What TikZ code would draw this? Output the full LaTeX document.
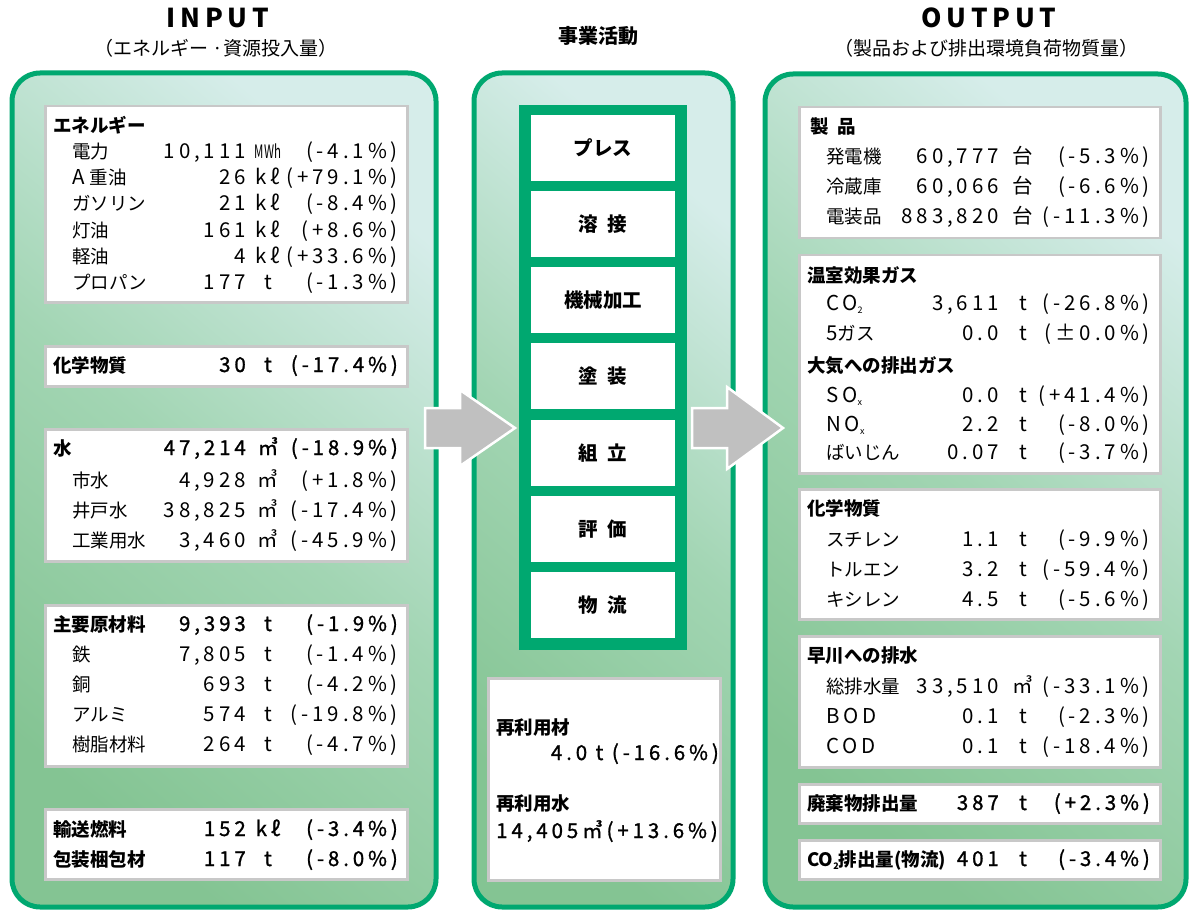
\documentclass[tikz,border=0pt]{standalone}
\usepackage{fontspec}
\setmainfont{Noto Sans CJK JP}
\newfontfamily\numf[LetterSpace=19]{Noto Sans CJK JP}
\newfontfamily\numfb[LetterSpace=19,FakeBold=1.2]{Noto Sans CJK JP}
\newfontfamily\ttlf[LetterSpace=18]{Noto Sans CJK JP}
\definecolor{grn}{HTML}{00A870}
\definecolor{boxgray}{HTML}{C8C8C8}
\definecolor{arrgray}{HTML}{C0C0C0}
\definecolor{lightc}{HTML}{D6EDEA}
\definecolor{midc}{HTML}{A2D5B3}
\definecolor{darkc}{HTML}{84C493}
\newcommand\hv{\numfb}
\newcommand\gp{\hspace{0.5em}}
\newcommand\lsub[1]{\raisebox{-0.35ex}{\fontsize{9}{9}\selectfont #1}}
\newcommand\Lrow[7]{%
  \node[lbl, anchor=base west] (#1n) at (#2,#3+7) {#4};
  \node[val, anchor=base east] (#1v) at (246,#3+7) {#5};
  \node[val, anchor=base] (#1u) at (268,#3+7) {#6};
  \node[val, anchor=base east] (#1p) at (398,#3+7) {#7};}
\newcommand\Rrow[7]{%
  \node[lbl, anchor=base west] (#1n) at (#2,#3+7) {#4};
  \node[val, anchor=base east] (#1v) at (999,#3+7) {#5};
  \node[val, anchor=base] (#1u) at (1023,#3+7) {#6};
  \node[val, anchor=base east] (#1p) at (1150,#3+7) {#7};}
\tikzset{
  panel/.style={draw=grn, line width=5pt, rounded corners=28pt,
    top color=lightc, bottom color=darkc, middle color=midc, shading angle=-40},
  wbox/.style={draw=boxgray, line width=2.5pt, fill=white, anchor=north west, inner sep=0pt},
  lbl/.style={inner sep=0pt, font=\fontsize{18.5}{20}\selectfont},
  hdr/.style={inner sep=0pt, font=\bfseries\fontsize{18.5}{20}\selectfont},
  val/.style={inner sep=0pt, font=\numf\fontsize{20.5}{22}\selectfont},
  proc/.style={fill=white, minimum width=144pt, minimum height=66pt, inner sep=0pt,
    font=\bfseries\fontsize{19.5}{20}\selectfont},
  blockarrow/.style={fill=arrgray, draw=white, line width=2.5pt, line join=miter},
  ttl/.style={inner sep=0pt, font=\ttlf\bfseries\fontsize{26}{26}\selectfont},
  sub/.style={inner sep=0pt, font=\fontsize{19}{20}\selectfont}
}
\begin{document}
\begin{tikzpicture}[x=1pt,y=-1pt]
\useasboundingbox (0,0) rectangle (1189,912);
% titles
\node[ttl] (tin) at (218,18) {INPUT};
\node[sub] (sin) at (216,48) {（エネルギー ·資源投入量）};
\node[inner sep=0pt, font=\bfseries\fontsize{20}{20}\selectfont] (tmid) at (598,36) {事業活動};
\node[ttl] (tout) at (989,18) {OUTPUT};
\node[sub] (sout) at (986,48) {（製品および排出環境負荷物質量）};
% panels
\path[panel] (12,73) rectangle (436,907);
\path[panel] (474,73) rectangle (733,907);
\path[panel] (765,74) rectangle (1186,907);
% left boxes
\node[wbox, minimum width=362pt, minimum height=196pt] (L1) at (44,105) {};
\node[wbox, minimum width=362pt, minimum height=40pt] (L2) at (44,345) {};
\node[wbox, minimum width=362pt, minimum height=132pt] (L3) at (44,428) {};
\node[wbox, minimum width=362pt, minimum height=161pt] (L4) at (44,604) {};
\node[wbox, minimum width=362pt, minimum height=70pt] (L5) at (44,808) {};
% right boxes
\node[wbox, minimum width=361pt, minimum height=131pt] (R1) at (798,106) {};
\node[wbox, minimum width=361pt, minimum height=218pt] (R2) at (798,254) {};
\node[wbox, minimum width=361pt, minimum height=130pt] (R3) at (798,488) {};
\node[wbox, minimum width=361pt, minimum height=131pt] (R4) at (798,635) {};
\node[wbox, minimum width=361pt, minimum height=39pt] (R5) at (798,783) {};
\node[wbox, minimum width=361pt, minimum height=39pt] (R6) at (798,839) {};
% middle
\node[fill=grn, anchor=north west, minimum width=168pt, minimum height=545pt, inner sep=0pt] (col) at (519,105) {};
\node[proc] (p1) at (603,148) {プレス};
\node[proc] (p2) at (603,224) {溶\gp 接};
\node[proc] (p3) at (603,300) {機械加工};
\node[proc] (p4) at (603,376) {塗\gp 装};
\node[proc] (p5) at (603,453) {組\gp 立};
\node[proc] (p6) at (603,529) {評\gp 価};
\node[proc] (p7) at (603,605) {物\gp 流};
\node[wbox, minimum width=232pt, minimum height=202pt] (M1) at (487,677) {};
\node[hdr, anchor=base west] (m1) at (496,734) {再利用材};
\node[val, anchor=base east] (m2) at (719,760) {\hv 4.0 t (-16.6\%)};
\node[hdr, anchor=base west] (m3) at (496,810) {再利用水};
\node[val, anchor=base west] (m4) at (496,838) {\hv 14,405㎥(+13.6\%)};
% arrows
\draw[blockarrow] (425,408) -- (460,408) -- (460,390) -- (515,428) -- (460,466) -- (460,448) -- (425,448) -- cycle;
\draw[blockarrow] (692,408) -- (727,408) -- (727,387) -- (783,428) -- (727,469) -- (727,448) -- (692,448) -- cycle;
% left rows
\node[hdr, anchor=base west] (eh) at (53,133) {エネルギー};
\Lrow{a}{72}{152}{電力}{10,111}{\scalebox{0.62}[1]{\normalfont\fontsize{18.5}{20}\selectfont MWh}}{(-4.1\%)}
\Lrow{b}{72}{178}{{\numf\fontsize{20.5}{22}\selectfont A}\hspace{5pt}重油}{26}{kℓ}{(+79.1\%)}
\Lrow{c}{72}{204}{ガソリン}{21}{kℓ}{(-8.4\%)}
\Lrow{d}{72}{230}{灯油}{161}{kℓ}{(+8.6\%)}
\Lrow{e}{72}{256}{軽油}{4}{kℓ}{(+33.6\%)}
\Lrow{f}{72}{283}{プロパン}{177}{t}{(-1.3\%)}
\Lrow{g}{53}{365}{\bfseries 化学物質}{\hv 30}{\hv t}{\hv (-17.4\%)}
\Lrow{h}{53}{448}{\bfseries 水}{\hv 47,214}{\hv ㎥}{\hv (-18.9\%)}
\Lrow{i}{72}{480}{市水}{4,928}{㎥}{(+1.8\%)}
\Lrow{j}{72}{510}{井戸水}{38,825}{㎥}{(-17.4\%)}
\Lrow{k}{72}{540}{工業用水}{3,460}{㎥}{(-45.9\%)}
\Lrow{l}{53}{624}{\bfseries 主要原材料}{\hv 9,393}{\hv t}{\hv (-1.9\%)}
\Lrow{m}{72}{654}{鉄}{7,805}{t}{(-1.4\%)}
\Lrow{n}{72}{684}{銅}{693}{t}{(-4.2\%)}
\Lrow{o}{72}{714}{アルミ}{574}{t}{(-19.8\%)}
\Lrow{p}{72}{744}{樹脂材料}{264}{t}{(-4.7\%)}
\Lrow{q}{53}{829}{\bfseries 輸送燃料}{\hv 152}{\hv kℓ}{\hv (-3.4\%)}
\Lrow{r}{53}{859}{\bfseries 包装梱包材}{\hv 117}{\hv t}{\hv (-8.0\%)}
% right rows
\node[hdr, anchor=base west] (rh1) at (810,134) {製\hspace{0.45em}品};
\Rrow{ra}{826}{157}{発電機}{60,777}{台}{(-5.3\%)}
\Rrow{rb}{826}{187}{冷蔵庫}{60,066}{台}{(-6.6\%)}
\Rrow{rc}{826}{217}{電装品}{883,820}{台}{(-11.3\%)}
\node[hdr, anchor=base west] (rh2) at (807,282) {温室効果ガス};
\Rrow{rd}{826}{303}{{\numf\fontsize{20.5}{22}\selectfont CO}\lsub{2}}{3,611}{t}{(-26.8\%)}
\Rrow{re}{826}{333}{{\numf\fontsize{20.5}{22}\selectfont 5}ガス}{0.0}{t}{(±0.0\%)}
\node[hdr, anchor=base west] (rh3) at (807,372) {大気への排出ガス};
\Rrow{rf}{826}{395}{{\numf\fontsize{20.5}{22}\selectfont SO}\lsub{x}}{0.0}{t}{(+41.4\%)}
\Rrow{rg}{826}{424}{{\numf\fontsize{20.5}{22}\selectfont NO}\lsub{x}}{2.2}{t}{(-8.0\%)}
\Rrow{rh}{826}{452}{ばいじん}{0.07}{t}{(-3.7\%)}
\node[hdr, anchor=base west] (rh4) at (807,515) {化学物質};
\Rrow{ri}{826}{539}{スチレン}{1.1}{t}{(-9.9\%)}
\Rrow{rj}{826}{569}{トルエン}{3.2}{t}{(-59.4\%)}
\Rrow{rk}{826}{599}{キシレン}{4.5}{t}{(-5.6\%)}
\node[hdr, anchor=base west] (rh5) at (807,662) {早川への排水};
\Rrow{rl}{826}{686}{総排水量}{33,510}{㎥}{(-33.1\%)}
\Rrow{rm}{826}{716}{{\numf\fontsize{20.5}{22}\selectfont BOD}}{0.1}{t}{(-2.3\%)}
\Rrow{rn}{826}{746}{{\numf\fontsize{20.5}{22}\selectfont COD}}{0.1}{t}{(-18.4\%)}
\Rrow{ro}{807}{803}{\bfseries 廃棄物排出量}{\hv 387}{\hv t}{\hv (+2.3\%)}
\Rrow{rp}{807}{859}{\bfseries CO\lsub{2}排出量(物流)}{\hv 401}{\hv t}{\hv (-3.4\%)}
\end{tikzpicture}
\end{document}
